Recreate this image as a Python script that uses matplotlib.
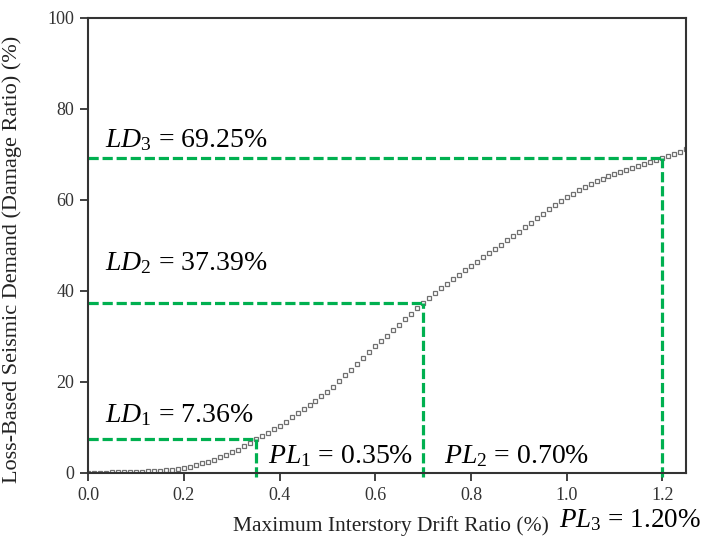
import numpy as np
import matplotlib
matplotlib.use("Agg")
import matplotlib.pyplot as plt

plt.rcParams["font.family"] = "Liberation Serif"
plt.rcParams["mathtext.fontset"] = "custom"
plt.rcParams["mathtext.rm"] = "Liberation Serif"
plt.rcParams["mathtext.it"] = "Liberation Serif:italic"

# drift ratio (%) sampled every 0.0125
drift = np.linspace(0, 1.25, 101)
damage = [
    0.00, 0.02, 0.04, 0.07, 0.10, 0.13, 0.17, 0.21,
    0.25, 0.30, 0.36, 0.43, 0.50, 0.62, 0.75, 0.92,
    1.10, 1.40, 1.75, 2.10, 2.50, 2.95, 3.45, 3.95,
    4.50, 5.15, 5.85, 6.60, 7.36, 8.10, 8.85, 9.60,
    10.40, 11.30, 12.20, 13.10, 14.00, 14.95, 15.90, 16.85,
    17.80, 18.95, 20.20, 21.45, 22.70, 23.95, 25.20, 26.50,
    27.80, 29.00, 30.20, 31.40, 32.60, 33.80, 35.00, 36.20,
    37.39, 38.50, 39.60, 40.60, 41.60, 42.60, 43.60, 44.60,
    45.50, 46.40, 47.40, 48.40, 49.30, 50.20, 51.20, 52.10,
    53.00, 54.00, 55.00, 56.00, 57.00, 57.90, 58.90, 59.80,
    60.70, 61.40, 62.10, 62.80, 63.50, 64.10, 64.70, 65.20,
    65.70, 66.20, 66.60, 67.10, 67.50, 67.90, 68.40, 68.80,
    69.25, 69.70, 70.20, 70.60, 71.10,
]

pl_values = [0.35, 0.70, 1.20]
ld_values = [7.36, 37.39, 69.25]
green = "#00b050"

fig = plt.figure(figsize=(7.06, 5.43), dpi=100)
ax = fig.add_axes([0.125, 0.129, 0.847, 0.838])

ax.plot(drift, damage, linestyle="none", marker="s", markersize=3.5,
        markerfacecolor="white", markeredgecolor="#707070", markeredgewidth=0.9)

for pl, ld in zip(pl_values, ld_values):
    ax.plot([0, pl], [ld, ld], color=green, lw=2.3, dashes=(3.2, 1.2))
    ax.plot([pl, pl], [-0.8, ld], color=green, lw=2.3, dashes=(3.2, 1.2), clip_on=False)

fs = 20
ax.text(0.036, 71.6, r"$LD_{\mathit{3}}$ = 69.25%", fontsize=fs)
ax.text(0.036, 44.5, r"$LD_{\mathit{2}}$ = 37.39%", fontsize=fs)
ax.text(0.036, 11.2, r"$LD_{\mathit{1}}$ = 7.36%", fontsize=fs)
ax.text(0.376, 2.2, r"$PL_{\mathit{1}}$ = 0.35%", fontsize=fs)
ax.text(0.743, 2.2, r"$PL_{\mathit{2}}$ = 0.70%", fontsize=fs)
ax.text(0.985, -11.9, r"$PL_{\mathit{3}}$ = 1.20%", fontsize=19.5, clip_on=False)

ax.set_xlim(0, 1.25)
ax.set_ylim(0, 100)
ax.set_xticks([0.0, 0.2, 0.4, 0.6, 0.8, 1.0, 1.2])
ax.set_xticklabels(["0.0", "0.2", "0.4", "0.6", "0.8", "1.0", "1.2"])
ax.set_yticks([0, 20, 40, 60, 80, 100])
ax.tick_params(direction="out", length=6, width=1.3, labelsize=13,
               colors="#333333", pad=4)
for s in ax.spines.values():
    s.set_color("#333333")
    s.set_linewidth(1.5)

ax.set_xlabel("Maximum Interstory Drift Ratio (%)", fontsize=15.5, color="#222222")
ax.xaxis.set_label_coords(0.507, -0.095)
ax.set_ylabel("Loss-Based Seismic Demand (Damage Ratio) (%)", fontsize=16,
              color="#222222")
ax.yaxis.set_label_coords(-0.11, 0.47)

fig.savefig("out.png", dpi=100)
